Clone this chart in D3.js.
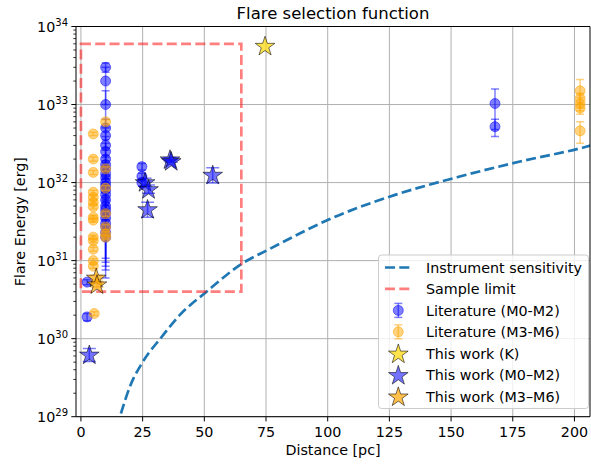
<!DOCTYPE html>
<html><head><meta charset="utf-8">
<script src="https://cdn.jsdelivr.net/npm/d3@7"></script>
<style>body{margin:0;background:#fff} svg{display:block} text{font-family:"DejaVu Sans",sans-serif;fill:#000}</style>
</head><body><svg id="c" width="591" height="464"></svg>
<script>
// ---- data ----
const xTicks = [0, 25, 50, 75, 100, 125, 150, 175, 200];
const yTickExps = [29, 30, 31, 32, 33, 34];

const sensD = [16.2, 20, 25, 32.7, 40, 50.9, 65.6, 76.3, 101.7, 127, 152.4, 177.9, 203.3, 210];
const sensE = [1.1e29, 2.5e29, 5.0e29, 1.05e30, 2.0e30, 4.0e30, 9.3e30, 1.4e31, 3.5e31, 6.9e31, 1.17e32, 1.86e32, 2.8e32, 3.2e32];

const limitD = [0, 65];
const limitE = [4e30, 6e33];

const litM02D = [10,10,10,10,10,10,10,10,10,10,10,10,10,10,10,10,10,10,10,10,10,10,10,10,10, 2.5, 2.5, 24.7, 24.7, 24.7, 167.8, 167.8];
const litM02E = [3e33,2e33,1e33,5e32,4e32,3e32,2.5e32,2e32,1.7e32,1.5e32,1.3e32,1.15e32,1e32,9e31,8e31,7e31,6e31,5e31,4.5e31,4e31,3.5e31,3e31,2.7e31,2.3e31,2e31, 5.3e30, 1.9e30, 1.6e32, 1.2e32, 1.0e32, 1.03e33, 5.2e32];
const litM02Err = [4e32,1e33,5e32,1.5e32,1.2e32,9e31,7e31,6e31,5e31,4e31,3.5e31,3e31,2.5e31,2.2e31,2e31,1.8e31,1.6e31,1.4e31,1.2e31,1.5e31,2.43e31,2.05e31,1.85e31,1.54e31,1.4e31, 4e29, 2e29, 1.5e31, 1.2e31, 1e31, 5.5e32, 1.3e32];

const litM36D = [10,10,10,10,10,10,10, 5,5,5,5,5,5,5,5,5,5,5,5,5,5, 5.4, 202.3,202.3,202.3,202.3,202.3];
const litM36E = [6e32,1.5e32,8.5e31,4e31,2.7e31,2.2e31,2e31, 4.2e32,2e32,1.35e32,7.5e31,6.5e31,5.6e31,4.9e31,3.6e31,3.3e31,2e31,1.8e31,1.4e31,1e31,8.5e30, 2.1e30, 1.5e33,1.2e33,1.03e33,9e32,4.6e32];
const litM36Err = [4e31,1e31,6e30,3e30,2e30,1.5e30,1.5e30, 2e31,1.2e31,8e30,5e30,4e30,3e30,3e30,2e30,2e30,1.2e30,1e30,8e29,6e29,5e29, 1.2e29, 6e32,2e32,2e32,1.5e32,1.4e32];

const starKD = [74.6];
const starKE = [5.7e33];
const starKErr = [0];

const starM02D = [3.4, 26, 27.4, 27, 36.1, 36.6, 53.4];
const starM02E = [6.3e29, 1.02e32, 8.3e31, 4.6e31, 2.0e32, 1.9e32, 1.27e32];
const starM02Err = [1.2e29, 1.2e31, 1.0e31, 1.0e31, 1.0e31, 8e30, 2.8e31];

const starM36D = [6.2, 6.5];
const starM36E = [6.1e30, 5.0e30];
const starM36Err = [4e29, 4e29];

const legendLabels = ["Instrument sensitivity", "Sample limit", "Literature (M0-M2)", "Literature (M3-M6)", "This work (K)", "This work (M0\u2013M2)", "This work (M3\u2013M6)"];

// ---- layout ----
const L = 76, R = 590, T = 26.5, B = 416.7;
const FS = 14.3;
const svg = d3.select("#c");
const x = d3.scaleLinear().domain([-2, 206.3]).range([L, R]);
const y = d3.scaleLog().domain([1e29, 1e34]).range([B, T]);

svg.append("defs").append("clipPath").attr("id", "clip")
  .append("rect").attr("x", L).attr("y", T).attr("width", R - L).attr("height", B - T);

// grid
const grid = svg.append("g");
xTicks.forEach(t => grid.append("line").attr("x1", x(t)).attr("x2", x(t)).attr("y1", T).attr("y2", B)
  .attr("stroke", "#b0b0b0").attr("stroke-width", 1));
yTickExps.forEach(e => grid.append("line").attr("x1", L).attr("x2", R).attr("y1", y(Math.pow(10, e))).attr("y2", y(Math.pow(10, e)))
  .attr("stroke", "#b0b0b0").attr("stroke-width", 1));

const plot = svg.append("g").attr("clip-path", "url(#clip)");

// instrument sensitivity
const line = d3.line().x(d => x(d[0])).y(d => y(d[1])).curve(d3.curveMonotoneX);
plot.append("path").datum(sensD.map((d, i) => [d, sensE[i]]))
  .attr("d", line).attr("fill", "none").attr("stroke", "#1f77b4").attr("stroke-width", 2.7)
  .attr("stroke-dasharray", "10,4.3");

// sample limit rectangle
plot.append("rect").attr("x", x(limitD[0])).attr("y", y(limitE[1]))
  .attr("width", x(limitD[1]) - x(limitD[0])).attr("height", y(limitE[0]) - y(limitE[1]))
  .attr("fill", "none").attr("stroke", "#ff0000").attr("stroke-opacity", 0.5).attr("stroke-width", 2.7)
  .attr("stroke-dasharray", "10,4.3");

function errorbars(g, D, E, Err, color, op, cap) {
  D.forEach((d, i) => {
    if (!Err[i]) return;
    const lo = E[i] - Err[i] > 0 ? y(E[i] - Err[i]) : B + 5;
    const hi = y(E[i] + Err[i]);
    const cx = x(d);
    g.append("line").attr("x1", cx).attr("x2", cx).attr("y1", lo).attr("y2", hi)
      .attr("stroke", color).attr("stroke-opacity", op).attr("stroke-width", 1.5);
    [lo, hi].forEach(yy => g.append("line").attr("x1", cx - cap).attr("x2", cx + cap).attr("y1", yy).attr("y2", yy)
      .attr("stroke", color).attr("stroke-opacity", op).attr("stroke-width", 1.5));
  });
}
function circles(g, D, E, color) {
  D.forEach((d, i) => g.append("circle").attr("cx", x(d)).attr("cy", y(E[i])).attr("r", 5)
    .attr("fill", color).attr("fill-opacity", 0.5).attr("stroke", color).attr("stroke-opacity", 0.5).attr("stroke-width", 1));
}
const star = d3.symbol().type(d3.symbolStar).size(120);
function stars(g, D, E, fill, fop) {
  D.forEach((d, i) => g.append("path").attr("d", star())
    .attr("transform", `translate(${x(d)},${y(E[i]) + 1})`)
    .attr("fill", fill).attr("fill-opacity", fop).attr("stroke", "#000").attr("stroke-opacity", 0.55).attr("stroke-width", 1));
}

errorbars(plot, litM02D, litM02E, litM02Err, "#0000ff", 0.5, 4);
circles(plot, litM02D, litM02E, "#0000ff");
errorbars(plot, litM36D, litM36E, litM36Err, "#ffa500", 0.5, 4);
circles(plot, litM36D, litM36E, "#ffa500");

errorbars(plot, starKD, starKE, starKErr, "#ffd700", 0.5, 6.5);
stars(plot, starKD, starKE, "#ffd700", 0.7);
errorbars(plot, starM02D, starM02E, starM02Err, "#0000ff", 0.5, 6.5);
stars(plot, starM02D, starM02E, "#0000ff", 0.55);
errorbars(plot, starM36D, starM36E, starM36Err, "#ffa500", 0.5, 6.5);
stars(plot, starM36D, starM36E, "#ffa500", 0.7);

// axes spines
svg.append("line").attr("x1", L).attr("x2", L).attr("y1", T).attr("y2", B).attr("stroke", "#000").attr("stroke-width", 1);
svg.append("line").attr("x1", L).attr("x2", R).attr("y1", B).attr("y2", B).attr("stroke", "#000").attr("stroke-width", 1);
svg.append("line").attr("x1", L).attr("x2", R).attr("y1", T).attr("y2", T).attr("stroke", "#000").attr("stroke-width", 1);
svg.append("line").attr("x1", R).attr("x2", R).attr("y1", T).attr("y2", B).attr("stroke", "#000").attr("stroke-width", 1);

// x ticks
xTicks.forEach(t => {
  svg.append("line").attr("x1", x(t)).attr("x2", x(t)).attr("y1", B).attr("y2", B + 4.7).attr("stroke", "#000");
  svg.append("text").attr("x", x(t)).attr("y", B + 20.5).attr("text-anchor", "middle").attr("font-size", FS).text(t);
});
// y ticks
yTickExps.forEach(e => {
  const yy = y(Math.pow(10, e));
  svg.append("line").attr("x1", L - 4.7).attr("x2", L).attr("y1", yy).attr("y2", yy).attr("stroke", "#000");
  const tx = svg.append("text").attr("x", L - 8).attr("y", yy + 5.5).attr("text-anchor", "end").attr("font-size", FS);
  tx.append("tspan").text("10");
  tx.append("tspan").attr("dy", -6.5).attr("font-size", 10).text(e);
});
for (let e = 29; e < 34; e++) {
  for (let m = 2; m <= 9; m++) {
    const yy = y(m * Math.pow(10, e));
    svg.append("line").attr("x1", L - 2.7).attr("x2", L).attr("y1", yy).attr("y2", yy).attr("stroke", "#000").attr("stroke-width", 0.8);
  }
}

// labels
svg.append("text").attr("x", (L + R) / 2).attr("y", 455).attr("text-anchor", "middle").attr("font-size", FS).text("Distance [pc]");
svg.append("text").attr("transform", `translate(25,${(T + B) / 2}) rotate(-90)`).attr("text-anchor", "middle").attr("font-size", FS).text("Flare Energy [erg]");
svg.append("text").attr("x", (L + R) / 2).attr("y", 19).attr("text-anchor", "middle").attr("font-size", 16.5).text("Flare selection function");

// legend
const lg = svg.append("g");
lg.append("rect").attr("x", 378.5).attr("y", 255).attr("width", 210).attr("height", 153.5).attr("rx", 3)
  .attr("fill", "#fff").attr("fill-opacity", 0.8).attr("stroke", "#cccccc").attr("stroke-width", 1);
const rowY = i => 267.5 + i * 21.45;
const hx = 398.3;
legendLabels.forEach((lab, i) => {
  const yy = rowY(i);
  lg.append("text").attr("x", 426).attr("y", yy + 5.3).attr("font-size", FS).text(lab);
});
lg.append("line").attr("x1", 385).attr("x2", 411.7).attr("y1", rowY(0)).attr("y2", rowY(0))
  .attr("stroke", "#1f77b4").attr("stroke-width", 2.7).attr("stroke-dasharray", "10,4.3");
lg.append("line").attr("x1", 385).attr("x2", 411.7).attr("y1", rowY(1)).attr("y2", rowY(1))
  .attr("stroke", "#ff0000").attr("stroke-opacity", 0.5).attr("stroke-width", 2.7).attr("stroke-dasharray", "10,4.3");
[[2, "#0000ff"], [3, "#ffa500"]].forEach(([i, c]) => {
  const yy = rowY(i);
  lg.append("line").attr("x1", hx).attr("x2", hx).attr("y1", yy - 7).attr("y2", yy + 7).attr("stroke", c).attr("stroke-opacity", 0.5).attr("stroke-width", 1.5);
  [yy - 7, yy + 7].forEach(v => lg.append("line").attr("x1", hx - 4).attr("x2", hx + 4).attr("y1", v).attr("y2", v).attr("stroke", c).attr("stroke-opacity", 0.5).attr("stroke-width", 1.5));
  lg.append("circle").attr("cx", hx).attr("cy", yy).attr("r", 5).attr("fill", c).attr("fill-opacity", 0.5).attr("stroke", c).attr("stroke-opacity", 0.5);
});
[[4, "#ffd700", 0.7], [5, "#0000ff", 0.55], [6, "#ffa500", 0.7]].forEach(([i, c, op]) => {
  lg.append("path").attr("d", star()).attr("transform", `translate(${hx},${rowY(i) + 1})`)
    .attr("fill", c).attr("fill-opacity", op).attr("stroke", "#000").attr("stroke-opacity", 0.55).attr("stroke-width", 1);
});
</script></body></html>
